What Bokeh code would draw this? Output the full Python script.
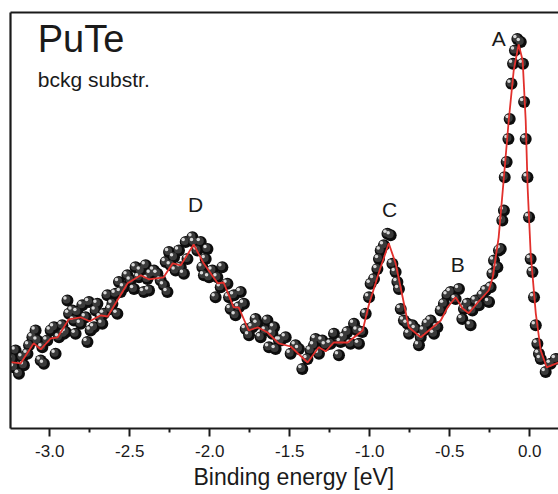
from bokeh.plotting import figure
from bokeh.models import Range1d, LinearAxis, FixedTicker, Label, Title
from bokeh.embed import file_html
from bokeh.resources import INLINE
from bokeh.core.properties import value

# measured spectrum (binding energy [eV], intensity arb. units, background subtracted)
exp_energy = [
    -3.233, -3.213, -3.223, -3.192, -3.161, -3.171, -3.139, -3.129, -3.108, -3.088,
    -3.077, -3.056, -3.036, -3.046, -3.015, -2.994, -2.973, -2.963, -2.942, -2.921,
    -2.911, -2.900, -2.889, -2.879, -2.858, -2.848, -2.838, -2.827, -2.806, -2.796,
    -2.775, -2.764, -2.754, -2.744, -2.723, -2.713, -2.702, -2.681, -2.671, -2.661,
    -2.639, -2.619, -2.608, -2.588, -2.577, -2.567, -2.556, -2.536, -2.514, -2.494,
    -2.473, -2.463, -2.442, -2.431, -2.411, -2.400, -2.389, -2.379, -2.369, -2.348,
    -2.327, -2.306, -2.286, -2.275, -2.264, -2.254, -2.244, -2.223, -2.213, -2.192,
    -2.181, -2.161, -2.150, -2.139, -2.108, -2.098, -2.077, -2.056, -2.046, -2.025,
    -2.014, -2.036, -2.004, -1.983, -1.963, -1.952, -1.931, -1.921, -1.889, -1.879,
    -1.869, -1.848, -1.838, -1.817, -1.806, -1.786, -1.775, -1.754, -1.733, -1.713,
    -1.702, -1.681, -1.650, -1.639, -1.629, -1.608, -1.598, -1.588, -1.567,
    -1.556, -1.525, -1.494, -1.463, -1.442, -1.421, -1.389, -1.369, -1.348, -1.338,
    -1.317, -1.296, -1.275, -1.244, -1.223, -1.192, -1.181, -1.161, -1.139, -1.119,
    -1.098, -1.077, -1.067, -1.046, -1.025, -1.004, -0.994, -0.973, -0.952, -0.942,
    -0.931, -0.911, -0.889, -0.869, -0.858, -0.838, -0.827, -0.817, -0.806, -0.786,
    -0.764, -0.754, -0.733, -0.713, -0.692, -0.681, -0.661, -0.639, -0.619, -0.598,
    -0.577, -0.556, -0.536, -0.514, -0.494, -0.463, -0.442, -0.421, -0.411, -0.389,
    -0.369, -0.358, -0.338, -0.317, -0.296, -0.275, -0.254, -0.244, -0.233, -0.223,
    -0.202, -0.192,
    -0.181, -0.171, -0.161, -0.156, -0.144, -0.133, -0.125, -0.114, -0.104, -0.092,
    -0.077, -0.056, -0.042, -0.035, -0.025, -0.014, -0.004, 0.006, 0.017, 0.027,
    0.038, 0.048, 0.058, 0.069, 0.100, 0.131, 0.163,
]
exp_intensity = [
    17.4, 19.5, 15.3, 13.7, 15.8, 17.8, 18.7, 20.8, 22.8, 24.5,
    22.0, 17.0, 16.2, 20.3, 22.0, 24.5, 25.3, 18.7, 22.8, 25.8,
    23.7, 24.1, 32.0, 28.7, 29.5, 27.0, 23.7, 29.1, 26.2, 30.8,
    27.8, 21.6, 31.6, 24.5, 25.3, 29.5, 31.2, 27.8, 26.2, 28.7,
    33.3, 29.9, 31.2, 33.7, 28.7, 36.6, 34.1, 35.3, 38.3, 37.0,
    34.9, 40.3, 37.8, 39.5, 34.1, 40.8, 37.4, 34.5, 38.7, 39.5,
    38.7, 37.0, 35.8, 41.6, 34.1, 44.1, 40.8, 42.8, 39.5, 44.5,
    40.3, 38.7, 46.6, 42.4, 47.8, 46.6, 44.5, 46.6, 40.3, 42.4,
    44.9, 38.3, 37.8, 39.5, 32.8, 37.8, 35.3, 40.3, 36.2, 32.8,
    29.9, 33.3, 28.3, 30.3, 34.1, 31.2, 24.9, 23.3, 25.3, 27.4,
    26.2, 22.8, 24.5, 27.0, 20.3, 23.7, 25.3, 19.9, 22.0,
    22.0, 22.8, 18.7, 20.8, 19.9, 14.9, 17.4, 19.5, 20.8, 22.4,
    18.7, 22.0, 20.8, 21.2, 23.7, 18.3, 21.6, 22.8, 24.1, 21.2,
    26.2, 24.5, 21.2, 24.1, 28.7, 32.8, 36.2, 37.4, 39.9, 42.4,
    44.5, 45.8, 48.7, 48.3, 41.2, 39.1, 36.6, 34.9, 29.9, 27.0,
    26.2, 23.7, 25.8, 24.9, 20.8, 22.8, 24.5, 26.2, 27.0, 23.7,
    25.3, 29.5, 31.2, 33.3, 34.1, 32.4, 34.9, 27.4, 29.9, 31.2,
    25.8, 29.5, 32.0, 30.8, 33.3, 34.5, 31.6, 35.3, 38.7, 42.0,
    40.3, 44.5,
    44.9, 52.0, 54.5, 62.8, 66.6, 72.4, 77.4, 86.2, 91.2, 94.5,
    97.4, 96.6, 91.2, 81.6, 72.4, 62.8, 52.8, 42.4, 39.1, 32.8,
    25.8, 21.2, 18.7, 17.4, 14.1, 16.2, 17.4,
]

# smoothed curve
fit_energy = [
    -3.244, -3.181, -3.100, -3.056, -2.994, -2.950, -2.881, -2.806, -2.750, -2.681,
    -2.638, -2.588, -2.513, -2.431, -2.381, -2.288, -2.231, -2.181, -2.100, -2.038,
    -1.950, -1.913, -1.850, -1.819, -1.756, -1.700, -1.638, -1.569, -1.494, -1.388,
    -1.319, -1.275, -1.225, -1.138, -1.044, -1.006, -0.944, -0.881, -0.838, -0.794,
    -0.756, -0.681, -0.606, -0.556, -0.513, -0.463, -0.419, -0.381, -0.325, -0.256,
    -0.231, -0.194, -0.163, -0.131, -0.100, -0.069, -0.044, -0.025, -0.013, 0.006,
    0.038, 0.069, 0.106, 0.181,
]
fit_intensity = [
    16.6, 16.3, 21.3, 19.8, 22.5, 22.8, 27.3, 27.8, 26.8, 28.3,
    28.0, 31.3, 36.3, 38.3, 37.3, 37.8, 41.3, 40.8, 46.0, 41.3,
    36.3, 36.5, 30.3, 30.3, 24.5, 25.3, 24.0, 21.3, 20.5, 16.5,
    20.3, 19.3, 21.5, 21.5, 24.5, 30.8, 38.8, 46.3, 41.3, 32.8,
    25.3, 22.8, 25.3, 27.0, 30.3, 32.8, 30.0, 28.8, 31.5, 34.5,
    37.8, 47.8, 62.0, 77.0, 89.5, 96.0, 92.0, 77.0, 60.3, 43.8,
    28.8, 19.5, 15.3, 16.5,
]

peak_names = ["A", "B", "C", "D"]
peak_energy = [-0.194, -0.450, -0.875, -2.088]
peak_height = [97.5, 41.0, 54.8, 56.0]

major_ticks = [-3.0, -2.5, -2.0, -1.5, -1.0, -0.5, 0.0]
minor_ticks = [-3.25, -2.75, -2.25, -1.75, -1.25, -0.75, -0.25]
tick_labels = ["-3.0", "-2.5", "-2.0", "-1.5", "-1.0", "-0.5", "0.0"]
x_title = "Binding energy [eV]"

X0, X1 = -3.245, 0.18
Y0, Y1 = 0.0, 104.0
W, H = 558, 494
ML, MR, MT, MB = 10, 0, 12, 66

p = figure(width=W, height=H, output_backend="svg", toolbar_location=None,
           x_range=Range1d(X0, X1), y_range=Range1d(Y0, Y1),
           x_axis_location=None, y_axis_location=None,
           min_border_left=ML, min_border_right=MR, min_border_top=MT, min_border_bottom=MB)
p.grid.visible = False
p.outline_line_color = None
p.background_fill_color = "white"
p.border_fill_color = "white"

FONT = "Liberation Sans"
INK = "#1a1a1a"

bottom = LinearAxis(ticker=FixedTicker(ticks=major_ticks, minor_ticks=minor_ticks),
                    major_label_overrides={t: s for t, s in zip(major_ticks, tick_labels)})
bottom.axis_line_width = 2.2
bottom.axis_line_color = INK
bottom.major_tick_line_width = 2
bottom.major_tick_line_color = INK
bottom.major_tick_out = 8
bottom.major_tick_in = 0
bottom.minor_tick_line_width = 2
bottom.minor_tick_line_color = INK
bottom.minor_tick_out = 4
bottom.minor_tick_in = 0
bottom.major_label_text_font = FONT
bottom.major_label_text_font_size = "17px"
bottom.major_label_text_color = INK
bottom.major_label_standoff = 8
p.add_layout(bottom, "below")

# x-axis title, placed where the original (wider) frame centred it
p.add_layout(Title(text=x_title, align="left", offset=183, standoff=5,
                   text_font=FONT, text_font_size="23px", text_font_style="normal",
                   text_color=INK), "below")

for loc in ("left", "above"):
    ax = LinearAxis(ticker=FixedTicker(ticks=[]))
    ax.axis_line_width = 2.2
    ax.axis_line_color = INK
    ax.major_tick_line_color = None
    ax.minor_tick_line_color = None
    ax.major_tick_out = 0
    ax.minor_tick_out = 0
    ax.major_label_standoff = 0
    ax.major_label_text_font_size = "0px"
    p.add_layout(ax, loc)

# sphere-like markers
px_per_x = (W - ML - MR) / (X1 - X0)
px_per_y = (H - MT - MB) / (Y1 - Y0)
hx = [e - 2.5 / px_per_x for e in exp_energy]
hy = [v + 2.5 / px_per_y for v in exp_intensity]
hx2 = [e - 1.0 / px_per_x for e in exp_energy]
hy2 = [v + 1.0 / px_per_y for v in exp_intensity]

p.scatter(exp_energy, exp_intensity, size=12, fill_color="#0d0d0d", line_color=None)
p.scatter(hx2, hy2, size=8, fill_color="#3a3a3a", line_color=None)
p.scatter(hx, hy, size=3.5, fill_color="#d8d8d8", line_color=None)

p.line(fit_energy, fit_intensity, line_color="#e2302c", line_width=1.8)

p.text(x=peak_energy, y=peak_height, text=peak_names, text_font=value(FONT),
       text_font_size="21px", text_align="center", text_baseline="alphabetic",
       text_color=INK)

p.add_layout(Label(x=-3.075, y=97.5, text="PuTe", text_font=FONT, text_font_size="38px",
                   text_baseline="alphabetic", text_color=INK))
p.add_layout(Label(x=-3.075, y=87.2, text="bckg substr.", text_font=FONT,
                   text_font_size="21px", text_baseline="alphabetic", text_color=INK))

open("out.html", "w").write(file_html(p, INLINE))
